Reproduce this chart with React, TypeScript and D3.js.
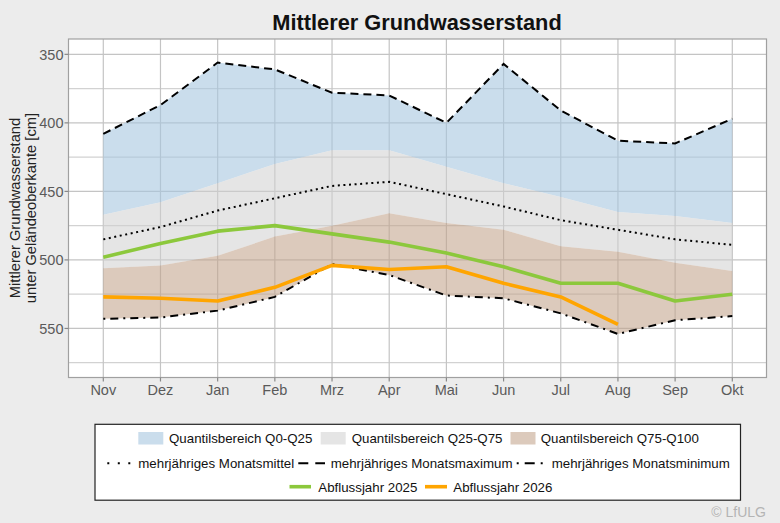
import React from 'react';
import * as d3 from 'd3';

// monthly values, cm below ground surface (hydrological year Nov-Okt)
const months = ['Nov', 'Dez', 'Jan', 'Feb', 'Mrz', 'Apr', 'Mai', 'Jun', 'Jul', 'Aug', 'Sep', 'Okt'];
const maxVals = [408, 387, 356, 361, 378, 380, 400, 357, 391, 413, 415, 397];
const q25Vals = [467, 458, 444, 430, 420, 420, 432, 444, 454, 465, 468, 473];
const meanVals = [485, 476, 464, 455, 446, 443, 452, 461, 471, 478, 485, 489];
const q75Vals = [506, 504, 497, 483, 475, 466, 473, 478, 490, 494, 502, 508];
const minVals = [543, 542, 537, 527, 503, 511, 526, 528, 539, 554, 544, 541];
const year2025 = [498, 488, 479, 475, 481, 487, 495, 505, 517, 517, 530, 525];
const year2026 = [527, 528, 530, 520, 504, 507, 505, 517, 527, 547];

const majorTicks = [350, 400, 450, 500, 550];
const minorTicks = [375, 425, 475, 525, 575];

const W = 780;
const H = 523;
const panel = { left: 68.5, right: 766.5, top: 39, bottom: 377.5 };

const FONT = 'Liberation Sans, Arial, sans-serif';
const GREEN = '#8cc83c';
const ORANGE = '#ffa500';

const App: React.FC = () => {
  const x = d3.scalePoint<string>().domain(months).range([103.3, 732.3]);
  const y = d3.scaleLinear().domain([338.8, 585.8]).range([panel.top, panel.bottom]);

  const idx = months.map((_, i) => i);
  const px = (i: number) => x(months[i]) as number;

  const band = (lo: number[], hi: number[]) =>
    d3.area<number>().x(px).y0(i => y(lo[i])).y1(i => y(hi[i]))(idx) || '';

  const line = (vals: number[]) =>
    d3.line<number>().x(px).y(i => y(vals[i]))(vals.map((_, i) => i)) || '';

  return (
    <>
      <style>{'body{margin:0;background:#ececec}'}</style>
      <svg width={W} height={H} style={{ display: 'block', fontFamily: FONT }}>
        <rect x={0} y={0} width={W} height={H} fill="#ececec" />

        {/* title */}
        <text x={417} y={30} textAnchor="middle" fontSize={21.8} fontWeight="bold" fill="#111">
          Mittlerer Grundwasserstand
        </text>

        {/* panel */}
        <rect x={panel.left} y={panel.top} width={panel.right - panel.left} height={panel.bottom - panel.top} fill="#fff" />

        {/* grid */}
        {minorTicks.map(t => (
          <line key={'mi' + t} x1={panel.left} x2={panel.right} y1={y(t)} y2={y(t)} stroke="#d2d2d2" strokeWidth={1.2} />
        ))}
        {majorTicks.map(t => (
          <line key={'ma' + t} x1={panel.left} x2={panel.right} y1={y(t)} y2={y(t)} stroke="#c4c4c4" strokeWidth={1.2} />
        ))}
        {months.map(m => (
          <line key={'v' + m} x1={x(m)} x2={x(m)} y1={panel.top} y2={panel.bottom} stroke="#c4c4c4" strokeWidth={1.2} />
        ))}

        {/* quantile ranges */}
        <path d={band(q25Vals, maxVals)} fill="#a6c6e0" fillOpacity={0.6} />
        <path d={band(q75Vals, q25Vals)} fill="#cfcfcf" fillOpacity={0.55} />
        <path d={band(minVals, q75Vals)} fill="#c3a38c" fillOpacity={0.58} />

        {/* long-term statistics */}
        <path d={line(meanVals)} fill="none" stroke="#000" strokeWidth={2} strokeDasharray="2,3.6" />
        <path d={line(maxVals)} fill="none" stroke="#000" strokeWidth={2} strokeDasharray="8,5" />
        <path d={line(minVals)} fill="none" stroke="#000" strokeWidth={2} strokeDasharray="2,5,8,5" />

        {/* years */}
        <path d={line(year2025)} fill="none" stroke={GREEN} strokeWidth={3.6} strokeLinejoin="round" />
        <path d={line(year2026)} fill="none" stroke={ORANGE} strokeWidth={3.6} strokeLinejoin="round" />

        {/* border */}
        <rect x={panel.left} y={panel.top} width={panel.right - panel.left} height={panel.bottom - panel.top}
          fill="none" stroke="#a0a0a0" strokeWidth={1.2} />

        {/* y axis */}
        {majorTicks.map(t => (
          <g key={'yt' + t}>
            <line x1={panel.left - 4} x2={panel.left} y1={y(t)} y2={y(t)} stroke="#888" strokeWidth={1.2} />
            <text x={panel.left - 5} y={y(t)} dy="0.36em" textAnchor="end" fontSize={14.5} fill="#5a5a5a">{t}</text>
          </g>
        ))}
        <text transform="translate(19.5,208) rotate(-90)" textAnchor="middle" fontSize={14.7} fill="#222">
          Mittlerer Grundwasserstand
        </text>
        <text transform="translate(35.5,208) rotate(-90)" textAnchor="middle" fontSize={14.7} fill="#222">
          unter Geländeoberkante [cm]
        </text>

        {/* x axis */}
        {months.map(m => (
          <g key={'xt' + m}>
            <line x1={x(m)} x2={x(m)} y1={panel.bottom} y2={panel.bottom + 4} stroke="#888" strokeWidth={1.2} />
            <text x={x(m)} y={394.5} textAnchor="middle" fontSize={14.5} fill="#5a5a5a">{m}</text>
          </g>
        ))}

        {/* legend */}
        <rect x={95} y={424.3} width={645.5} height={75.9} fill="#fff" stroke="#222" strokeWidth={1.2} />
        <g fontSize={13.3} fill="#111">
          <rect x={138.3} y={432} width={25} height={12.5} fill="#a6c6e0" fillOpacity={0.6} />
          <text x={169} y={443.3}>Quantilsbereich Q0-Q25</text>
          <rect x={320.7} y={432} width={25} height={12.5} fill="#cfcfcf" fillOpacity={0.55} />
          <text x={351.7} y={443.3}>Quantilsbereich Q25-Q75</text>
          <rect x={510.5} y={432} width={25} height={12.5} fill="#c3a38c" fillOpacity={0.58} />
          <text x={540.7} y={443.3}>Quantilsbereich Q75-Q100</text>

          <line x1={107.3} x2={131} y1={463.3} y2={463.3} stroke="#000" strokeWidth={2} strokeDasharray="2,8.5" />
          <text x={138.3} y={467.8}>mehrjähriges Monatsmittel</text>
          <line x1={298.3} x2={325} y1={463.3} y2={463.3} stroke="#000" strokeWidth={2} strokeDasharray="10,7" />
          <text x={330.7} y={467.8}>mehrjähriges Monatsmaximum</text>
          <line x1={516.7} x2={545} y1={463.3} y2={463.3} stroke="#000" strokeWidth={2} strokeDasharray="2,6,10,6,2,100" />
          <text x={551.7} y={467.8}>mehrjähriges Monatsminimum</text>

          <line x1={289.5} x2={311} y1={486.7} y2={486.7} stroke={GREEN} strokeWidth={3.6} />
          <text x={318.3} y={491.5}>Abflussjahr 2025</text>
          <line x1={425} x2={447} y1={486.7} y2={486.7} stroke={ORANGE} strokeWidth={3.6} />
          <text x={453.3} y={491.5}>Abflussjahr 2026</text>
        </g>

        <text x={766} y={517} textAnchor="end" fontSize={14} fill="#b4b4b4">© LfULG</text>
      </svg>
    </>
  );
};

export default App;
